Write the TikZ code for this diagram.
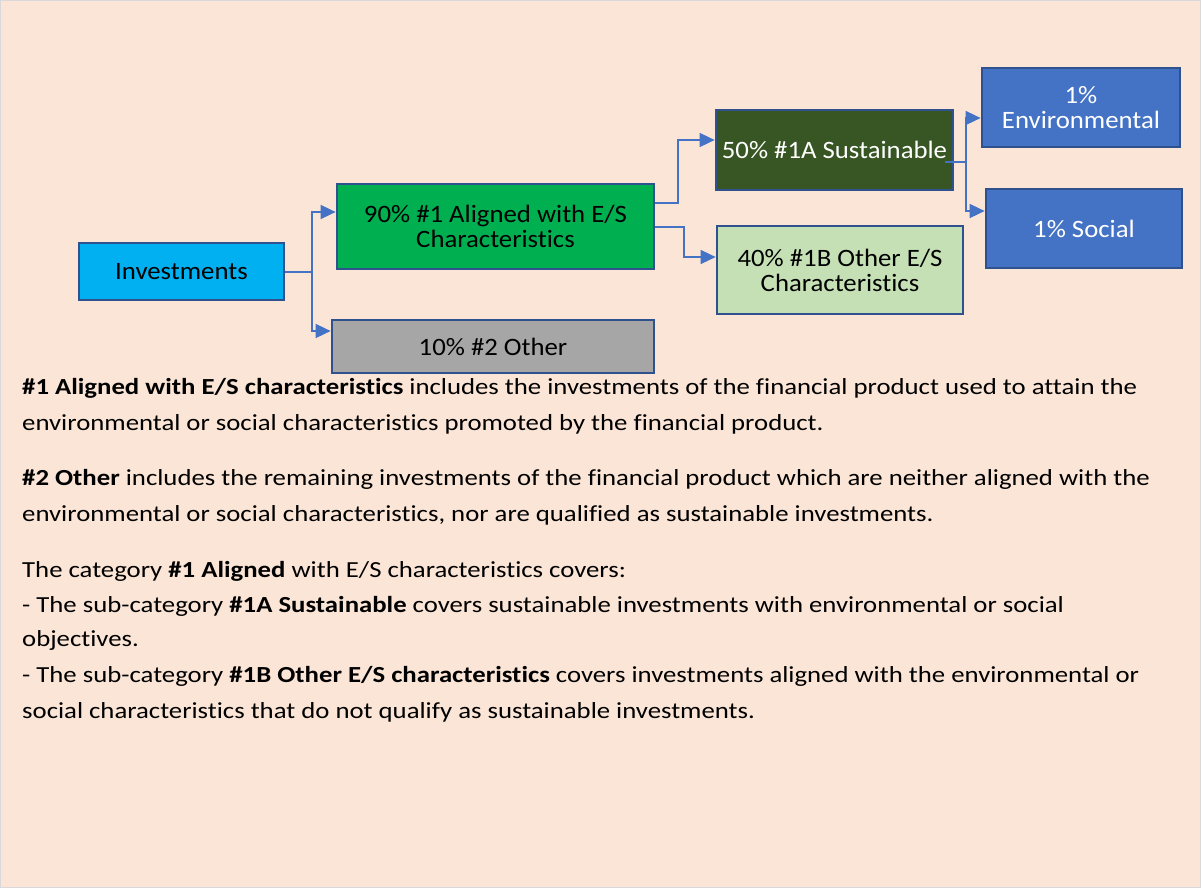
\documentclass[tikz,border=0pt]{standalone}
\usepackage{fontspec}
\setmainfont{Carlito}[Ligatures=NoCommon]
\newfontfamily\bodyfont{Carlito}[FakeStretch=1.163,Ligatures=NoCommon]
\newfontfamily\boxfont{Carlito}[FakeStretch=1.07,Ligatures=NoCommon]
\usetikzlibrary{arrows.meta}
\definecolor{bgpeach}{HTML}{FBE5D6}
\definecolor{frameg}{HTML}{D9D9D9}
\definecolor{edgeblue}{HTML}{2F528F}
\definecolor{linkblue}{HTML}{4472C4}
\definecolor{cyanf}{HTML}{00B0F0}
\definecolor{greenf}{HTML}{00B050}
\definecolor{grayf}{HTML}{A6A6A6}
\definecolor{darkgreenf}{HTML}{375623}
\definecolor{lightgreenf}{HTML}{C5E0B4}
\definecolor{bluef}{HTML}{4472C4}
\begin{document}
\begin{tikzpicture}[x=1pt,y=-1pt,
  box/.style={draw=edgeblue,line width=2.7pt,inner sep=0pt,align=center,
    font=\boxfont\fontsize{25}{25}\selectfont},
  link/.style={draw=linkblue,line width=1.5pt,-{Triangle[length=15pt,width=14pt]}},
  plain/.style={draw=linkblue,line width=1.5pt},
  body/.style={anchor=base west,inner sep=0pt,font=\bodyfont\fontsize{23}{36}\selectfont}]
\useasboundingbox (0,0) rectangle (1203,889);
\fill[bgpeach] (0,0) rectangle (1201,888);
\draw[frameg,line width=1pt] (0.5,0.5) rectangle (1200.5,887.5);

\node[box,fill=cyanf,minimum width=205pt,minimum height=57pt] (inv) at (181.5,271.5) {Investments};
\node[box,fill=greenf,minimum width=317pt,minimum height=85pt] (al) at (495.5,226.5) {90\% \#1 Aligned with E/S\\Characteristics};
\node[box,fill=grayf,minimum width=322pt,minimum height=53pt] (oth) at (493,346.5) {10\% \#2 Other};
\node[box,fill=darkgreenf,text=white,minimum width=237pt,minimum height=80pt] (sus) at (834.5,150) {50\% \#1A Sustainable};
\node[box,fill=lightgreenf,minimum width=246pt,minimum height=88pt] (ob) at (840,270) {40\% \#1B Other E/S\\Characteristics};
\node[box,fill=bluef,text=white,minimum width=198pt,minimum height=79pt] (env) at (1081,107.5) {1\%\\Environmental};
\node[box,fill=bluef,text=white,minimum width=196pt,minimum height=79pt] (soc) at (1084,228.5) {1\% Social};

\coordinate (j1) at (312,272);
\draw[plain] (inv.east |- j1) -- (j1);
\draw[link] (j1) |- (al.west |- 0,212);
\draw[link] (j1) |- (oth.west |- 0,331);

\draw[link] (al.east |- 0,203) -- (678,203) |- (sus.west |- 0,140);
\draw[link] (al.east |- 0,227) -- (684,227) |- (ob.west |- 0,257);

\coordinate (j3) at (966,162);
\draw[plain] ([xshift=-9pt]sus.east |- j3) -- (j3);
\draw[link] (j3) |- (env.west |- 0,118);
\draw[link] (j3) |- (soc.west |- 0,211);

\node[body] (p1a) at (22,394) {\textbf{\#1 Aligned with E/S characteristics} includes the investments of the financial product used to attain the};
\node[body] (p1b) at (22,430) {environmental or social characteristics promoted by the financial product.};
\node[body] (p2a) at (22,485) {\textbf{\#2 Other} includes the remaining investments of the financial product which are neither aligned with the};
\node[body] (p2b) at (22,521) {environmental or social characteristics, nor are qualified as sustainable investments.};
\node[body] (p3a) at (22,577) {The category \textbf{\#1 Aligned} with E/S characteristics covers:};
\node[body] (p3b) at (22,612) {- The sub-category \textbf{\#1A Sustainable} covers sustainable investments with environmental or social};
\node[body] (p3c) at (22,646) {objectives.};
\node[body] (p3d) at (22,682) {- The sub-category \textbf{\#1B Other E/S characteristics} covers investments aligned with the environmental or};
\node[body] (p3e) at (22,718) {social characteristics that do not qualify as sustainable investments.};
\end{tikzpicture}
\end{document}
